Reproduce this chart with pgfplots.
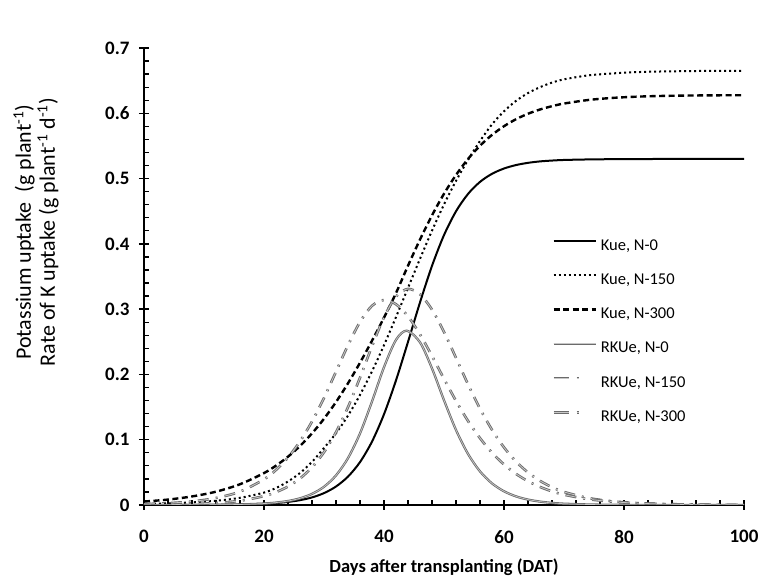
\documentclass[border=0pt]{standalone}
\usepackage{fontspec}
\setmainfont{Carlito}
\usepackage{pgfplots}
\pgfplotsset{compat=1.18}
\pgfplotsset{
  dashdotleg/.style={legend image code/.code={%
    \draw[##1, dash pattern=on 15pt off 8pt on 2.5pt off 30pt] (0pt,5pt) -- (42pt,5pt);}},
}

\begin{document}
\begin{tikzpicture}
\path[use as bounding box] (-144pt,-73pt) rectangle (617pt,505pt);
\begin{axis}[
  at={(0pt,0pt)}, anchor=south west,
  scale only axis, width=600pt, height=457pt,
  xmin=0, xmax=100, ymin=0, ymax=0.7,
  axis lines=left, axis line style={-, line width=1.6pt},
  xtick={0,20,40,60,80,100},
  ytick={0,0.1,0.2,0.3,0.4,0.5,0.6,0.7},
  minor x tick num=4, minor y tick num=4,
  tick align=inside, major tick length=10pt, minor tick length=5pt,
  tick style={black, line width=1.3pt},
  every major x tick/.append style={yshift=-5pt},
  every major y tick/.append style={xshift=-5pt},
  /pgf/number format/assume math mode=true,
  tick label style={font=\fontsize{19}{21}\selectfont\bfseries},
  xticklabel style={yshift=-22pt},
  yticklabel style={xshift=-11pt},
  xlabel={Days after transplanting (DAT)},
  xlabel style={font=\fontsize{18.5}{20}\selectfont\bfseries,
    at={(axis description cs:0.5,-0.136)}, anchor=center},
  ylabel={Potassium uptake~~(g plant\textsuperscript{-1})\\Rate of K uptake (g plant\textsuperscript{-1} d\textsuperscript{-1})},
  ylabel style={font=\fontsize{22}{24}\selectfont, align=center,
    at={(axis description cs:-0.18,0.597)}, anchor=center},
  legend cell align=left,
  legend image code/.code={\draw[#1] (0pt,5pt) -- (42pt,5pt);},
  legend style={at={(axis cs:67.5,0.412)}, anchor=north west,
    draw=none, fill=none, font=\fontsize{16.5}{19}\selectfont,
    nodes={inner sep=0pt, text height=12pt, text depth=4pt},
    row sep=18.2pt,
    /tikz/every odd column/.append style={column sep=4pt}},
]
% Kue, N-0
\addplot[black, line width=2pt, smooth] coordinates {
  (0,0)(4,0)(8,0.0001)(12,0.0003)(16,0.0008)(20,0.0019)(22,0.0030)(24,0.0047)
  (26,0.0074)(28,0.0116)(30,0.0182)(32,0.0283)(34,0.0435)(36,0.0657)(38,0.0971)
  (40,0.139)(42,0.1909)(44,0.2498)(46,0.3103)(48,0.3663)(50,0.4134)(52,0.4498)
  (54,0.4764)(56,0.4949)(58,0.5073)(60,0.5154)(62,0.5207)(64,0.5241)(66,0.5263)
  (68,0.5276)(70,0.5285)(74,0.5293)(78,0.5297)(82,0.5299)(86,0.53)(90,0.53)
  (95,0.53)(100,0.53)
};
\addlegendentry{Kue, N-0}
% Kue, N-150
\addplot[black, line width=2pt, dash pattern=on 2pt off 3pt, smooth] coordinates {
  (0,0.0015)(4,0.0025)(8,0.004)(12,0.0065)(16,0.011)(20,0.019)(22,0.026)(24,0.036)
  (26,0.049)(28,0.066)(30,0.0873)(32,0.1099)(34,0.1369)(36,0.1686)(38,0.2047)
  (40,0.2448)(42,0.2879)(44,0.3325)(46,0.3771)(48,0.4202)(50,0.4603)(52,0.4964)
  (54,0.5285)(56,0.5575)(58,0.583)(60,0.603)(62,0.619)(64,0.631)(66,0.640)
  (68,0.647)(70,0.652)(74,0.658)(78,0.661)(82,0.663)(86,0.664)(90,0.6645)
  (95,0.665)(100,0.665)
};
\addlegendentry{Kue, N-150}
% Kue, N-300
\addplot[black, line width=2.4pt, dash pattern=on 6pt off 3.5pt, smooth] coordinates {
  (0,0.0053)(4,0.0083)(8,0.0131)(12,0.0204)(16,0.0318)(20,0.0489)(22,0.0603)
  (24,0.0740)(26,0.0904)(28,0.1097)(30,0.1321)(32,0.1577)(34,0.1864)(36,0.2179)
  (38,0.2516)(40,0.2870)(42,0.3246)(44,0.3665)(46,0.4066)(48,0.4436)(50,0.4767)
  (52,0.5055)(54,0.5300)(56,0.5503)(58,0.5669)(60,0.5802)(62,0.5909)(64,0.5993)
  (66,0.6058)(68,0.6109)(70,0.6149)(74,0.6203)(78,0.6235)(82,0.6254)(86,0.6265)
  (90,0.6271)(95,0.6275)(100,0.6277)
};
\addlegendentry{Kue, N-300}
% RKUe, N-0
\addplot[black!58, line width=0.8pt, double=black!22, double distance=0.7pt, smooth] coordinates {
  (0,0)(8,0.0001)(12,0.0003)(16,0.0008)(20,0.0022)(22,0.0037)(24,0.0061)
  (26,0.0102)(28,0.0170)(30,0.0279)(32,0.0453)(34,0.0718)(36,0.1096)(38,0.1585)
  (40,0.2111)(42,0.2529)(43.8,0.267)(46,0.2492)(48,0.2092)(50,0.1605)(52,0.1149)
  (54,0.0783)(56,0.0515)(58,0.0331)(60,0.0210)(62,0.0132)(64,0.0083)(66,0.0052)
  (68,0.0032)(70,0.0020)(74,0.0008)(78,0.0003)(82,0.0001)(86,0)(90,0)(95,0)(100,0)
};
\addlegendentry{RKUe, N-0}
% RKUe, N-150
\addplot[black!58, line width=0.9pt, double=black!22, double distance=0.8pt,
         dash pattern=on 11pt off 7pt on 2pt off 7pt, smooth, dashdotleg] coordinates {
  (0,0.0003)(4,0.0007)(8,0.0014)(12,0.0030)(16,0.0065)(20,0.0136)(22,0.0197)
  (24,0.0283)(26,0.0406)(28,0.0577)(30,0.0809)(32,0.1115)(34,0.1499)(36,0.1950)
  (38,0.2431)(40,0.2875)(42,0.3193)(44,0.331)(46,0.3227)(48,0.2993)(50,0.2651)
  (52,0.2254)(54,0.1850)(56,0.1476)(58,0.1152)(60,0.0882)(62,0.0666)(64,0.0498)
  (66,0.0370)(68,0.0273)(70,0.0200)(74,0.0108)(78,0.0057)(82,0.0030)(86,0.0016)
  (90,0.0008)(95,0.0003)(100,0.0002)
};
\addlegendentry{RKUe, N-150}
% RKUe, N-300
\addplot[black!58, line width=0.9pt, double=black!22, double distance=0.8pt,
         dash pattern=on 11pt off 7pt on 2pt off 7pt, smooth, dashdotleg] coordinates {
  (0,0.0014)(4,0.0028)(8,0.0054)(12,0.0107)(16,0.0205)(20,0.0393)(22,0.0537)
  (24,0.0728)(26,0.0974)(28,0.1279)(30,0.1640)(32,0.2042)(34,0.2447)(36,0.2803)
  (38,0.3051)(40,0.314)(42,0.3075)(44,0.2890)(46,0.2614)(48,0.2282)(50,0.1933)
  (52,0.1595)(54,0.1288)(56,0.1024)(58,0.0801)(60,0.0621)(62,0.0477)(64,0.0364)
  (66,0.0277)(68,0.0209)(70,0.0158)(74,0.0090)(78,0.0051)(82,0.0028)(86,0.0016)
  (90,0.0009)(95,0.0004)(100,0.0002)
};
\addlegendentry{RKUe, N-300}
\end{axis}
\end{tikzpicture}
\end{document}
